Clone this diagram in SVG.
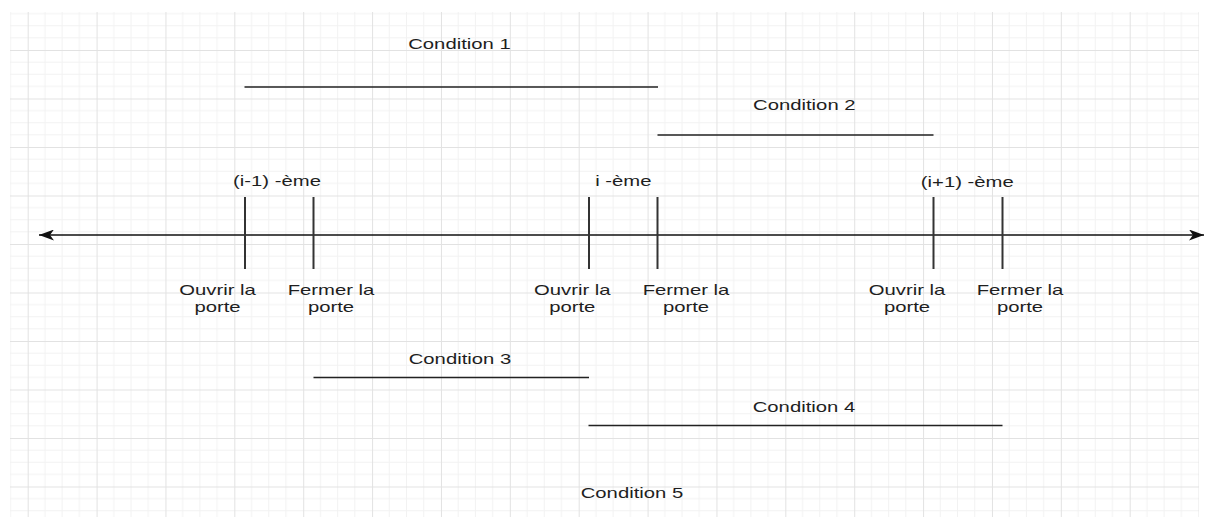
<svg xmlns="http://www.w3.org/2000/svg" width="1205" height="519" viewBox="0 0 1205 519">
<style>
text{font-family:"Liberation Sans",Arial,sans-serif;font-size:14.8px;fill:#1e1e1e;text-anchor:middle}
.axis{stroke:#111;stroke-width:1.6;fill:none}
.tick{stroke:#333;stroke-width:2;fill:none}
.cond{stroke:#222;stroke-width:1.6;fill:none}
.minor{stroke:#f2f2f2;stroke-width:1}
.major{stroke:#e2e2e2;stroke-width:1}
</style>
<defs>
<pattern id="grid" patternUnits="userSpaceOnUse" x="27.7" y="1.5" width="68.875" height="48.5">
<line class="minor" x1="17.22" y1="0" x2="17.22" y2="48.5"/>
<line class="minor" x1="34.44" y1="0" x2="34.44" y2="48.5"/>
<line class="minor" x1="51.66" y1="0" x2="51.66" y2="48.5"/>
<line class="minor" x1="0" y1="12.125" x2="68.875" y2="12.125"/>
<line class="minor" x1="0" y1="24.25" x2="68.875" y2="24.25"/>
<line class="minor" x1="0" y1="36.375" x2="68.875" y2="36.375"/>
<line class="major" x1="0.5" y1="0" x2="0.5" y2="48.5"/>
<line class="major" x1="0" y1="0.5" x2="68.875" y2="0.5"/>
</pattern>
<marker id="arr" markerUnits="userSpaceOnUse" viewBox="0 0 15 11" refX="15" refY="5.5" markerWidth="15" markerHeight="11" orient="auto-start-reverse">
<path d="M0,0 L15,5.5 L0,11 L4,5.5 Z" fill="#111"/>
</marker>
</defs>
<rect width="1205" height="519" fill="#fff"/>
<rect x="10" y="12" width="1189" height="505" fill="url(#grid)"/>
<g id="connectors">
<line class="axis" x1="39" y1="235" x2="1204" y2="235" marker-start="url(#arr)" marker-end="url(#arr)"/>
</g>
<g id="tick-i-1-open"><line class="tick" x1="245" y1="197" x2="245" y2="269"/></g>
<g id="tick-i-1-close"><line class="tick" x1="313.5" y1="197" x2="313.5" y2="269"/></g>
<g id="tick-i-open"><line class="tick" x1="589" y1="197" x2="589" y2="269"/></g>
<g id="tick-i-close"><line class="tick" x1="657.5" y1="197" x2="657.5" y2="269"/></g>
<g id="tick-i+1-open"><line class="tick" x1="933.5" y1="197" x2="933.5" y2="269"/></g>
<g id="tick-i+1-close"><line class="tick" x1="1002.5" y1="197" x2="1002.5" y2="269"/></g>
<g id="label-i-1"><text transform="translate(277,186) scale(1.37,1)">(i-1) -ème</text></g>
<g id="label-i"><text transform="translate(623.3,186) scale(1.37,1)">i -ème</text></g>
<g id="label-i+1"><text transform="translate(967.3,187) scale(1.37,1)">(i+1) -ème</text></g>
<g id="open-1"><text transform="translate(217.5,295) scale(1.37,1)">Ouvrir la</text><text transform="translate(217.5,312) scale(1.37,1)">porte</text></g>
<g id="close-1"><text transform="translate(331,295) scale(1.37,1)">Fermer la</text><text transform="translate(331,312) scale(1.37,1)">porte</text></g>
<g id="open-2"><text transform="translate(572.3,295) scale(1.37,1)">Ouvrir la</text><text transform="translate(572.3,312) scale(1.37,1)">porte</text></g>
<g id="close-2"><text transform="translate(686,295) scale(1.37,1)">Fermer la</text><text transform="translate(686,312) scale(1.37,1)">porte</text></g>
<g id="open-3"><text transform="translate(907,295) scale(1.37,1)">Ouvrir la</text><text transform="translate(907,312) scale(1.37,1)">porte</text></g>
<g id="close-3"><text transform="translate(1020,295) scale(1.37,1)">Fermer la</text><text transform="translate(1020,312) scale(1.37,1)">porte</text></g>
<g id="condition-1"><text transform="translate(459.5,49) scale(1.37,1)">Condition 1</text><line class="cond" x1="244.5" y1="87" x2="658" y2="87"/></g>
<g id="condition-2"><text transform="translate(804.3,110) scale(1.37,1)">Condition 2</text><line class="cond" x1="657.5" y1="135" x2="933.5" y2="135"/></g>
<g id="condition-3"><text transform="translate(460,363.5) scale(1.37,1)">Condition 3</text><line class="cond" x1="313.5" y1="377.5" x2="589" y2="377.5"/></g>
<g id="condition-4"><text transform="translate(804,412) scale(1.37,1)">Condition 4</text><line class="cond" x1="588.5" y1="425.5" x2="1002.5" y2="425.5"/></g>
<g id="condition-5"><text transform="translate(632,498) scale(1.37,1)">Condition 5</text></g>
</svg>
